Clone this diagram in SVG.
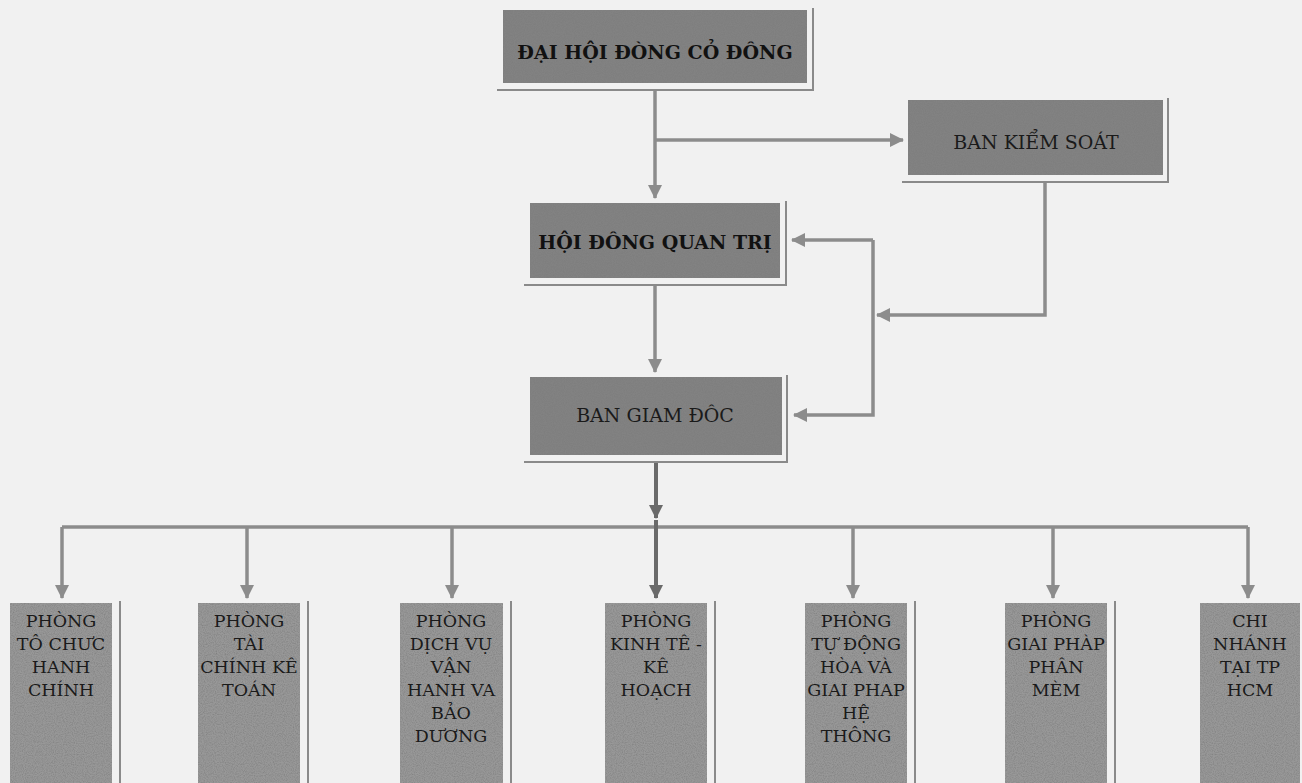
<svg xmlns="http://www.w3.org/2000/svg" width="1302" height="783" viewBox="0 0 1302 783">
<defs>
<filter id="grain" x="0" y="0" width="1" height="1">
<feTurbulence type="fractalNoise" baseFrequency="0.9" numOctaves="2" seed="3" result="n"/>
<feColorMatrix in="n" type="matrix" values="0 0 0 0 0.2  0 0 0 0 0.2  0 0 0 0 0.2  0 0 0 1.4 -0.5" result="g"/>
<feComposite in="g" in2="SourceGraphic" operator="in" result="gi"/>
<feMerge><feMergeNode in="SourceGraphic"/><feMergeNode in="gi"/></feMerge>
</filter>
<marker id="ah" markerWidth="16" markerHeight="16" refX="13" refY="7" orient="auto" markerUnits="userSpaceOnUse">
<path d="M0,0 L14,7 L0,14 Z" fill="#8c8c8c"/>
</marker>
<marker id="ahd" markerWidth="16" markerHeight="16" refX="13" refY="7" orient="auto" markerUnits="userSpaceOnUse">
<path d="M0,0 L14,7 L0,14 Z" fill="#6a6a6a"/>
</marker>
<style>
.top{fill:#828282;filter:url(#grain)}
.bot{fill:#989898;filter:url(#grain)}
.sh{fill:none;stroke:#8a8a8a;stroke-width:2}
.tb{font-family:"DejaVu Serif","Liberation Serif",serif;font-weight:bold;font-size:19px;fill:#111;text-anchor:middle}
.tr{font-family:"DejaVu Serif","Liberation Serif",serif;font-size:19px;fill:#1a1a1a;text-anchor:middle}
.tl{font-family:"DejaVu Serif","Liberation Serif",serif;font-size:17.5px;fill:#1a1a1a;text-anchor:middle}
.c{fill:none;stroke:#8c8c8c;stroke-width:3.5}
.cd{fill:none;stroke:#6a6a6a;stroke-width:4}
</style>
</defs>
<rect width="1302" height="783" fill="#f1f1f1"/>

<g id="connectors">
<path class="c" d="M655,90 V198" marker-end="url(#ah)"/>
<path class="c" d="M655,140 H903" marker-end="url(#ah)"/>
<path class="c" d="M1045,182 V315 H877" marker-end="url(#ah)"/>
<path class="c" d="M873,240 H792" marker-end="url(#ah)"/>
<path class="c" d="M873,240 V415 H794" marker-end="url(#ah)"/>
<path class="c" d="M655,285 V372" marker-end="url(#ah)"/>
<path class="cd" d="M656,462 V518" marker-end="url(#ahd)"/>
<path class="c" d="M62,527 H1248"/>
<path class="c" d="M62,527 V598" marker-end="url(#ah)"/>
<path class="c" d="M247,527 V598" marker-end="url(#ah)"/>
<path class="c" d="M452,527 V598" marker-end="url(#ah)"/>
<path class="cd" d="M656,520 V598" marker-end="url(#ahd)"/>
<path class="c" d="M853,527 V598" marker-end="url(#ah)"/>
<path class="c" d="M1053,527 V598" marker-end="url(#ah)"/>
<path class="c" d="M1248,527 V598" marker-end="url(#ah)"/>
</g>

<g id="dhdcd">
<rect class="top" x="503" y="10" width="304" height="73"/>
<path class="sh" d="M813,8 V90 H497"/>
<text class="tb" x="655" y="59">ĐẠI HỘI ĐÒNG CỎ ĐÔNG</text>
</g>

<g id="bks">
<rect class="top" x="908" y="100" width="255" height="75"/>
<path class="sh" d="M1168,98 V182 H902"/>
<text class="tr" x="1036" y="149">BAN KIỂM SOÁT</text>
</g>

<g id="hdqt">
<rect class="top" x="530" y="203" width="250" height="75"/>
<path class="sh" d="M786,201 V285 H524"/>
<text class="tb" x="655" y="249">HỘI ĐÔNG QUAN TRỊ</text>
</g>

<g id="bgd">
<rect class="top" x="530" y="377" width="252" height="78"/>
<path class="sh" d="M787,375 V462 H524"/>
<text class="tr" x="655" y="422">BAN GIAM ĐÔC</text>
</g>

<g id="p1">
<rect class="bot" x="10" y="603" width="102" height="180"/>
<path class="sh" d="M120,601 V783"/>
<text class="tl"><tspan x="61" y="627">PHÒNG</tspan><tspan x="61" y="650">TÔ CHƯC</tspan><tspan x="61" y="673">HANH</tspan><tspan x="61" y="696">CHÍNH</tspan></text>
</g>

<g id="p2">
<rect class="bot" x="198" y="603" width="102" height="180"/>
<path class="sh" d="M308,601 V783"/>
<text class="tl"><tspan x="249" y="627">PHÒNG</tspan><tspan x="249" y="650">TÀI</tspan><tspan x="249" y="673">CHÍNH KÊ</tspan><tspan x="249" y="696">TOÁN</tspan></text>
</g>

<g id="p3">
<rect class="bot" x="400" y="603" width="103" height="180"/>
<path class="sh" d="M511,601 V783"/>
<text class="tl"><tspan x="451" y="627">PHÒNG</tspan><tspan x="451" y="650">DỊCH VỤ</tspan><tspan x="451" y="673">VẬN</tspan><tspan x="451" y="696">HANH VA</tspan><tspan x="451" y="719">BẢO</tspan><tspan x="451" y="742">DƯƠNG</tspan></text>
</g>

<g id="p4">
<rect class="bot" x="605" y="603" width="102" height="180"/>
<path class="sh" d="M715,601 V783"/>
<text class="tl"><tspan x="656" y="627">PHÒNG</tspan><tspan x="656" y="650">KINH TÊ -</tspan><tspan x="656" y="673">KÊ</tspan><tspan x="656" y="696">HOẠCH</tspan></text>
</g>

<g id="p5">
<rect class="bot" x="805" y="603" width="102" height="180"/>
<path class="sh" d="M915,601 V783"/>
<text class="tl"><tspan x="856" y="627">PHÒNG</tspan><tspan x="856" y="650">TỰ ĐỘNG</tspan><tspan x="856" y="673">HÒA VÀ</tspan><tspan x="856" y="696">GIAI PHAP</tspan><tspan x="856" y="719">HỆ</tspan><tspan x="856" y="742">THÔNG</tspan></text>
</g>

<g id="p6">
<rect class="bot" x="1005" y="603" width="102" height="180"/>
<path class="sh" d="M1115,601 V783"/>
<text class="tl"><tspan x="1056" y="627">PHÒNG</tspan><tspan x="1056" y="650">GIAI PHÀP</tspan><tspan x="1056" y="673">PHÂN</tspan><tspan x="1056" y="696">MÈM</tspan></text>
</g>

<g id="p7">
<rect class="bot" x="1200" y="603" width="100" height="180"/>
<text class="tl"><tspan x="1250" y="627">CHI</tspan><tspan x="1250" y="650">NHÁNH</tspan><tspan x="1250" y="673">TẠI TP</tspan><tspan x="1250" y="696">HCM</tspan></text>
</g>
</svg>
